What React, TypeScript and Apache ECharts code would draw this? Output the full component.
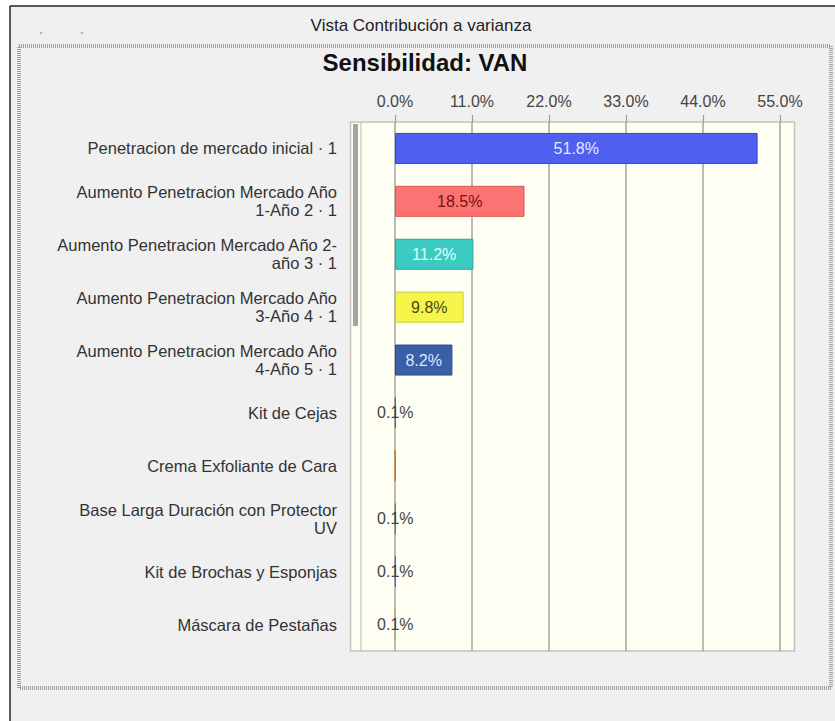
import React, { useEffect, useRef } from "react";
import * as echarts from "echarts";

const categories = [
  "Penetracion de mercado inicial · 1",
  "Aumento Penetracion Mercado Año\n1-Año 2 · 1",
  "Aumento Penetracion Mercado Año 2-\naño 3 · 1",
  "Aumento Penetracion Mercado Año\n3-Año 4 · 1",
  "Aumento Penetracion Mercado Año\n4-Año 5 · 1",
  "Kit de Cejas",
  "Crema Exfoliante de Cara",
  "Base Larga Duración con Protector\nUV",
  "Kit de Brochas y Esponjas",
  "Máscara de Pestañas",
];
const values = [51.8, 18.5, 11.2, 9.8, 8.2, 0.1, 0.04, 0.1, 0.1, 0.1];
const showLabel = [true, true, true, true, true, true, false, true, true, true];
const barColors = ["#4f5ff0", "#fb7372", "#3ccbc2", "#f6f64a", "#3b5ea8", "#7c7c8c", "#e89a3c", "#3cc050", "#7c7ce0", "#f0c848"];
const borderColors = ["#3a48c8", "#d85858", "#2aa8a0", "#c8c838", "#2c4a88", "#606070", "#c07820", "#2a9a3a", "#6060c0", "#d0a830"];
const labelColors = ["#e6e8ff", "#7a1212", "#e4fbfa", "#4a4a10", "#dfe6ff", "#444444", "#444444", "#444444", "#444444", "#444444"];
const tickValues = [0, 11, 22, 33, 44, 55];

const FONT = "'Liberation Sans', Arial, sans-serif";

export default function App() {
  const ref = useRef<HTMLDivElement>(null);
  useEffect(() => {
    if (!ref.current) return;
    const chart = echarts.init(ref.current, null, { renderer: "svg" });
    const data = values.map((v, i) => ({
      value: v,
      itemStyle: { color: barColors[i], borderColor: borderColors[i], borderWidth: 1 },
      label: { show: showLabel[i], color: labelColors[i] },
    }));
    chart.setOption({
      animation: false,
      backgroundColor: "#ffffff",
      textStyle: { fontFamily: FONT },
      graphic: [
        { type: "rect", z: -10, shape: { x: 10, y: 6, width: 830, height: 720 }, style: { fill: "#f0f0f0" } },
        { type: "line", z: -9, shape: { x1: 10, y1: 6, x2: 835, y2: 6 }, style: { stroke: "#222", lineWidth: 1.5 } },
        { type: "line", z: -9, shape: { x1: 10, y1: 6, x2: 10, y2: 721 }, style: { stroke: "#222", lineWidth: 1.5 } },
        { type: "circle", z: -9, shape: { cx: 41, cy: 33, r: 1.3 }, style: { fill: "#b4b4b4" } },
        { type: "circle", z: -9, shape: { cx: 82, cy: 33, r: 1.3 }, style: { fill: "#b4b4b4" } },
        { type: "text", z: 5, style: { text: "Vista Contribución a varianza", x: 421, y: 25, align: "center", verticalAlign: "middle", font: `17px ${FONT}`, fill: "#222" } },
        { type: "rect", z: -8, shape: { x: 19, y: 46, width: 812, height: 642 }, style: { fill: "none", stroke: "#a0a0a0", lineWidth: 4, lineDash: [1, 1] } },
        { type: "text", z: 5, style: { text: "Sensibilidad: VAN", x: 425, y: 62, align: "center", verticalAlign: "middle", font: `bold 24px ${FONT}`, fill: "#111" } },
        { type: "rect", z: -5, shape: { x: 350.5, y: 122, width: 444, height: 529 }, style: { fill: "#fefef2", stroke: "#c4c4b8", lineWidth: 1.5 } },
        { type: "line", z: -4, shape: { x1: 361, y1: 122, x2: 361, y2: 651 }, style: { stroke: "#c4c4b8", lineWidth: 1.2 } },
        { type: "rect", z: -4, shape: { x: 353, y: 124, width: 5, height: 202 }, style: { fill: "#a4a4a4" } },
      ],
      grid: { left: 395, right: 55, top: 122, bottom: 70, containLabel: false },
      xAxis: {
        type: "value",
        position: "top",
        min: tickValues[0],
        max: tickValues[tickValues.length - 1],
        interval: 11,
        axisLine: { show: false },
        axisTick: { show: true, length: 7, lineStyle: { color: "#9c9c9c", width: 1.2 } },
        splitLine: { show: true, lineStyle: { color: "#a4a49c", width: 1.5 } },
        axisLabel: { formatter: (v: number) => v.toFixed(1) + "%", fontSize: 16, color: "#444", margin: 13, fontFamily: FONT },
      },
      yAxis: {
        type: "category",
        inverse: true,
        data: categories,
        axisLine: { show: false },
        axisTick: { show: false },
        splitLine: { show: false },
        axisLabel: { fontSize: 16.5, color: "#333", margin: 58, lineHeight: 18, align: "right", fontFamily: FONT },
      },
      series: [
        {
          type: "bar",
          data,
          barWidth: 31,
          label: {
            show: true,
            position: "inside",
            fontSize: 16,
            fontFamily: FONT,
            formatter: (p: any) => Number(p.value).toFixed(1) + "%",
          },
        },
      ],
    });
    return () => chart.dispose();
  }, []);
  return <div ref={ref} style={{ position: "fixed", left: 0, top: 0, width: 835, height: 721 }} />;
}
